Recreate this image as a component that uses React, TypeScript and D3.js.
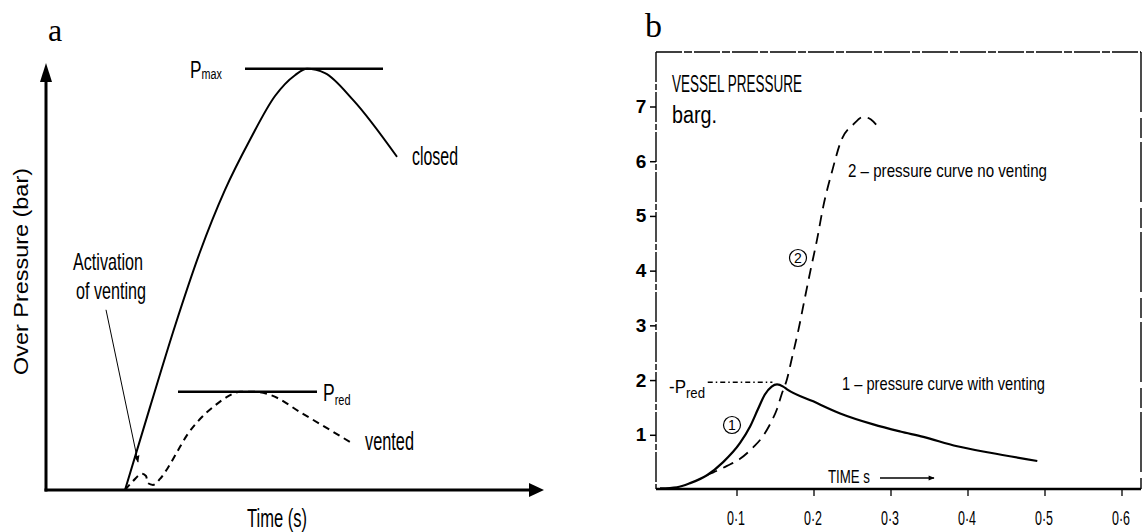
import * as d3 from 'd3'

const width = 1144
const height = 532

// ---- panel a : schematic curves (arbitrary time / pressure units)
const closedT = [1.58, 2.08, 2.58, 3.08, 3.58, 4.08, 4.58, 4.98, 5.22, 5.58, 6.14, 7.02]
const closedP = [0, 1.95, 3.86, 5.6, 7.06, 8.24, 9.27, 9.76, 9.91, 9.81, 9.18, 7.84]
const ventedT = [1.58, 1.74, 1.92, 2.0, 2.04, 2.14, 2.28, 2.42, 2.62, 2.82, 3.08, 3.34, 3.62, 3.88, 4.18, 4.48, 5.14, 6.08]
const ventedP = [0, 0.21, 0.38, 0.33, 0.16, 0.12, 0.26, 0.49, 0.89, 1.29, 1.67, 1.95, 2.19, 2.31, 2.31, 2.24, 1.79, 1.13]
const pMax = 9.91
const pMaxSpan = [3.98, 6.74]
const pRedA = 2.31
const pRedSpan = [2.64, 5.42]
const activationFrom = [1.2, 4.24]
const activationTo = [1.84, 0.66]

// ---- panel b : vessel pressure (barg) vs time (s)
const ventT = [0, 0.022, 0.04, 0.061, 0.082, 0.104, 0.117, 0.127, 0.136, 0.145, 0.152, 0.16, 0.165, 0.199, 0.234, 0.277, 0.312, 0.342, 0.386, 0.429, 0.49]
const ventP = [0.03, 0.05, 0.13, 0.27, 0.51, 0.86, 1.16, 1.47, 1.74, 1.89, 1.93, 1.89, 1.84, 1.62, 1.4, 1.2, 1.07, 0.97, 0.8, 0.68, 0.53]
const noVentT = [0.061, 0.087, 0.104, 0.121, 0.134, 0.145, 0.152, 0.158, 0.165, 0.171, 0.18, 0.188, 0.196, 0.204, 0.212, 0.223, 0.236, 0.251, 0.264, 0.274, 0.284]
const noVentP = [0.27, 0.44, 0.57, 0.78, 0.99, 1.26, 1.48, 1.75, 2.03, 2.39, 2.94, 3.5, 4.05, 4.58, 5.18, 5.8, 6.41, 6.68, 6.82, 6.77, 6.62]
const pRedB = 1.97
const pRedBSpan = [0.062, 0.146]
const yTicksB = [1, 2, 3, 4, 5, 6, 7]
const xTicksB = [0.1, 0.2, 0.3, 0.4, 0.5, 0.6]
const xTickLabelsB = ['0·1', '0·2', '0·3', '0·4', '0·5', '0·6']

const narrow = '"Liberation Sans Narrow", "Liberation Sans", Arial, sans-serif'

const xA = d3.scaleLinear().domain([0, 10]).range([46, 546])
const yA = d3.scaleLinear().domain([0, 10]).range([490, 65])
const xB = d3.scaleLinear().domain([0, 0.6]).range([660, 1122])
const yB = d3.scaleLinear().domain([0, 7]).range([490, 107])

const zip = (a: number[], b: number[]) => a.map((v, i) => [v, b[i]] as [number, number])

const lineA = d3.line<[number, number]>()
  .x(d => xA(d[0]))
  .y(d => yA(d[1]))
  .curve(d3.curveMonotoneX)

const lineB = d3.line<[number, number]>()
  .x(d => xB(d[0]))
  .y(d => yB(d[1]))
  .curve(d3.curveMonotoneX)

function App() {
  const x0 = xA(0)
  const y0 = yA(0)
  const bTop = 52
  const bLeft = 656
  const bRight = 1141
  const bBottom = 489

  return (
    <svg width={width} height={height} style={{ position: 'absolute', left: 0, top: 0, background: '#fff' }}>
      <defs>
        <marker id="headA" viewBox="0 0 10 10" refX="9" refY="5" markerWidth="7" markerHeight="9" orient="auto" markerUnits="userSpaceOnUse">
          <path d="M0,1 L10,5 L0,9 Z" fill="#000" />
        </marker>
        <marker id="headB" viewBox="0 0 10 10" refX="9" refY="5" markerWidth="8" markerHeight="6" orient="auto" markerUnits="userSpaceOnUse">
          <path d="M0,1 L10,5 L0,9 Z" fill="#000" />
        </marker>
      </defs>

      {/* ===== panel a ===== */}
      <text x={48} y={41} fontFamily="'Liberation Serif', 'Times New Roman', serif" fontSize={32}>a</text>

      <line x1={x0} y1={y0 + 1.5} x2={x0} y2={80} stroke="#000" strokeWidth={3} />
      <path d={`M${x0 - 6},${82} L${x0},${63} L${x0 + 6},${82} Z`} fill="#000" />
      <line x1={x0 - 1.5} y1={y0} x2={530} y2={y0} stroke="#000" strokeWidth={3} />
      <path d={`M${529},${y0 - 7} L${544},${y0} L${529},${y0 + 7} Z`} fill="#000" />

      <path d={lineA(zip(closedT, closedP)) || ''} fill="none" stroke="#000" strokeWidth={2} />
      <path d={lineA(zip(ventedT, ventedP)) || ''} fill="none" stroke="#000" strokeWidth={2} strokeDasharray="7 5" />

      <line x1={xA(pMaxSpan[0])} x2={xA(pMaxSpan[1])} y1={yA(pMax)} y2={yA(pMax)} stroke="#000" strokeWidth={2.5} />
      <line x1={xA(pRedSpan[0])} x2={xA(pRedSpan[1])} y1={yA(pRedA)} y2={yA(pRedA)} stroke="#000" strokeWidth={2.5} />

      <line
        x1={xA(activationFrom[0])} y1={yA(activationFrom[1])}
        x2={xA(activationTo[0])} y2={yA(activationTo[1])}
        stroke="#000" strokeWidth={1} markerEnd="url(#headA)"
      />

      <g fontFamily={narrow} fill="#000">
        <g transform={`translate(190,${yA(pMax) + 9}) scale(0.72,1)`}>
          <text x={0} y={0} fontSize={24}>
            P<tspan fontSize={15} dy={1}>max</tspan>
          </text>
        </g>
        <g transform={`translate(${xA(pRedSpan[1]) + 6},${yA(pRedA) + 9}) scale(0.73,1)`}>
          <text x={0} y={0} fontSize={24}>
            P<tspan fontSize={15} dy={4}>red</tspan>
          </text>
        </g>
        <text x={412} y={165} fontSize={25} textLength={46} lengthAdjust="spacingAndGlyphs">closed</text>
        <text x={365} y={450} fontSize={25} textLength={49} lengthAdjust="spacingAndGlyphs">vented</text>
        <text x={73} y={270} fontSize={24} textLength={70} lengthAdjust="spacingAndGlyphs">Activation</text>
        <text x={76} y={299} fontSize={24} textLength={70} lengthAdjust="spacingAndGlyphs">of venting</text>
        <text x={247} y={527} fontSize={25} textLength={60} lengthAdjust="spacingAndGlyphs">Time (s)</text>
      </g>
      <text
        transform="translate(28,375) rotate(-90)"
        fontFamily="'Liberation Sans', Arial, sans-serif" fontSize={21}
        textLength={207} lengthAdjust="spacingAndGlyphs"
      >Over Pressure (bar)</text>

      {/* ===== panel b ===== */}
      <text x={645} y={37} fontFamily="'Liberation Serif', 'Times New Roman', serif" fontSize={34}>b</text>

      <g stroke="#000" fill="none">
        <line x1={bLeft} y1={bTop} x2={bRight} y2={bTop} strokeWidth={1.6} strokeDasharray="26 2 8 2" />
        <line x1={bLeft} y1={bTop} x2={bLeft} y2={bBottom} strokeWidth={1.4} strokeDasharray="30 2 6 2" />
        <line x1={bRight} y1={bTop} x2={bRight} y2={bBottom} strokeWidth={1.4} strokeDasharray="60 6 20 4" />
        <line x1={bLeft} y1={bBottom} x2={bRight} y2={bBottom} strokeWidth={2.4} />
      </g>

      {yTicksB.map(t => (
        <g key={'y' + t}>
          <line x1={650} x2={bLeft} y1={yB(t)} y2={yB(t)} stroke="#000" strokeWidth={1.5} />
          <text x={641} y={yB(t) + 6} textAnchor="middle" fontFamily={narrow} fontWeight="bold" fontSize={19}>{t}</text>
        </g>
      ))}
      {xTicksB.map((t, i) => (
        <g key={'x' + t}>
          <line x1={xB(t)} x2={xB(t)} y1={bBottom} y2={bBottom + 7} stroke="#000" strokeWidth={1.3} />
          <text x={xB(t) - 1} y={525} textAnchor="middle" fontFamily={narrow} fontSize={20} textLength={18} lengthAdjust="spacingAndGlyphs">{xTickLabelsB[i]}</text>
        </g>
      ))}

      <line x1={xB(pRedBSpan[0])} x2={xB(pRedBSpan[1])} y1={yB(pRedB)} y2={yB(pRedB)} stroke="#000" strokeWidth={1.4} strokeDasharray="5 3 1.5 3" />

      <path d={lineB(zip(ventT, ventP)) || ''} fill="none" stroke="#000" strokeWidth={2.2} />
      <path d={lineB(zip(noVentT, noVentP)) || ''} fill="none" stroke="#000" strokeWidth={1.8} strokeDasharray="11 7" />

      <g fontFamily={narrow} fill="#000">
        <text x={672} y={92} fontSize={23} textLength={130} lengthAdjust="spacingAndGlyphs">VESSEL PRESSURE</text>
        <text x={672} y={123} fontSize={23} textLength={45} lengthAdjust="spacingAndGlyphs">barg.</text>
        <text x={848} y={177} fontSize={19} textLength={199} lengthAdjust="spacingAndGlyphs">2 – pressure curve no  venting</text>
        <text x={842} y={390} fontSize={19} textLength={203} lengthAdjust="spacingAndGlyphs">1 – pressure curve  with venting</text>
        <text x={669} y={393} fontSize={18} textLength={36} lengthAdjust="spacingAndGlyphs">
          -P<tspan fontSize={14} dy={5}>red</tspan>
        </text>
        <text x={828} y={483} fontSize={18} textLength={42} lengthAdjust="spacingAndGlyphs">TIME  s</text>
      </g>
      <line x1={880} y1={478} x2={934} y2={478} stroke="#000" strokeWidth={1.5} markerEnd="url(#headB)" />

      <circle cx={732} cy={425} r={8.5} fill="#fff" stroke="#000" strokeWidth={1.2} />
      <text x={732} y={430} textAnchor="middle" fontFamily={narrow} fontSize={14}>1</text>
      <circle cx={798} cy={258} r={8.5} fill="#fff" stroke="#000" strokeWidth={1.2} />
      <text x={798} y={263} textAnchor="middle" fontFamily={narrow} fontSize={14}>2</text>
    </svg>
  )
}

export default App
